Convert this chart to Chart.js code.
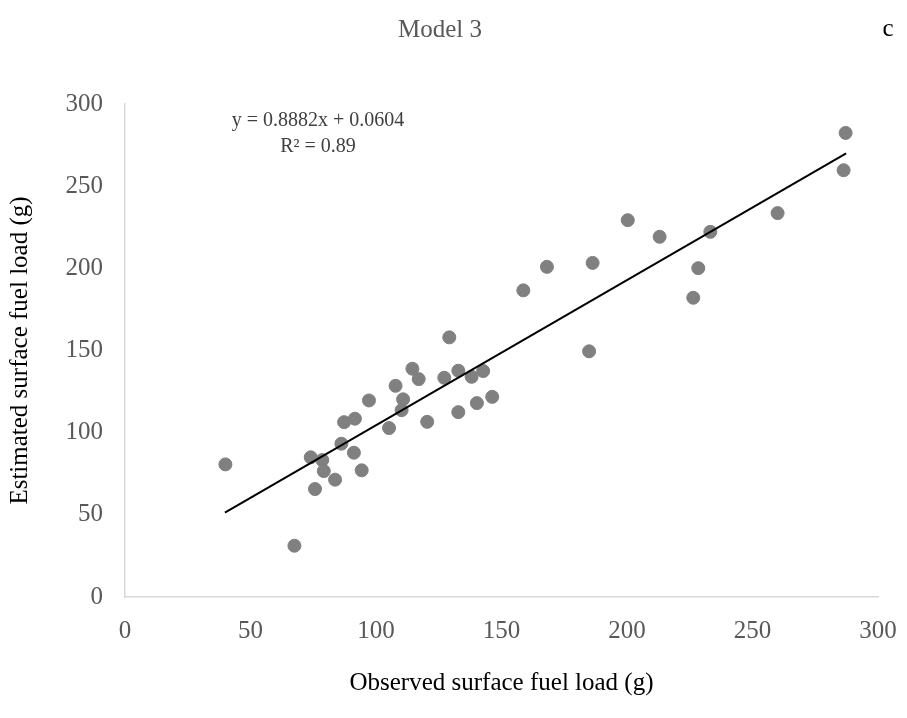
<!DOCTYPE html>
<html>
<head>
<meta charset="utf-8">
<script src="https://cdn.jsdelivr.net/npm/chart.js@4"></script>
<style>
  html, body { margin: 0; padding: 0; background: #fff; }
  #wrap { width: 907px; height: 718px; }
</style>
</head>
<body>
<div id="wrap"><canvas id="chart" width="907" height="718"></canvas></div>
<script>
// valeurs (g)
const observed = [40, 67.5, 74, 75.7, 78.6, 79.2, 83.7, 86.2, 87.3, 91.2, 91.6, 94.3, 97.2, 105.2,
  107.8, 110.2, 110.8, 114.5, 117, 120.4, 127.2, 129.2, 132.8, 132.8, 138.1, 140.2, 142.7, 146.3,
  158.7, 168.1, 186.3, 184.9, 200.3, 213, 233.2, 228.4, 226.4, 260, 286.3, 287.1];
const estimated = [80.7, 31.2, 85, 65.7, 83.3, 76.6, 71.4, 93.3, 106.4, 87.8, 108.5, 77.1, 119.6, 102.8,
  128.5, 113.7, 120.3, 138.9, 132.6, 106.6, 133.4, 158, 137.7, 112.5, 134, 118, 137.5, 121.8,
  186.6, 200.9, 203.3, 149.5, 229.3, 219.2, 222.2, 200.1, 182.1, 233.6, 259.7, 282.4];
// extrémités de la droite de tendance
const trendX = [39.8, 287.3];
const trendY = [51.3, 269.9];
const equationLines = ['y = 0.8882x + 0.0604', 'R² = 0.89'];
const xTicks = [0, 50, 100, 150, 200, 250, 300];
const yTicks = [0, 50, 100, 150, 200, 250, 300];

const serif = "'Liberation Serif', 'Times New Roman', serif";

// textes hors du graphique : titre, lettre du panneau, équation
const extraText = {
  id: 'extraText',
  afterDraw(chart) {
    const ctx = chart.ctx;
    ctx.save();
    ctx.textAlign = 'center';
    ctx.textBaseline = 'middle';
    ctx.font = '25px ' + serif;
    ctx.fillStyle = '#595959';
    ctx.fillText('Model 3', 440, 30);
    ctx.fillStyle = '#000';
    ctx.fillText('c', 888, 29);
    ctx.font = '20px ' + serif;
    ctx.fillStyle = '#404040';
    ctx.fillText(equationLines[0], 318, 121);
    ctx.fillText(equationLines[1], 318, 147);
    ctx.restore();
  }
};

new Chart(document.getElementById('chart'), {
  type: 'scatter',
  data: {
    datasets: [
      {
        label: 'Estimated',
        data: observed.map((x, i) => ({ x: x, y: estimated[i] })),
        backgroundColor: '#808080',
        borderColor: '#808080',
        pointRadius: 6.5,
        pointHoverRadius: 6.5,
        order: 2
      },
      {
        label: 'Trend',
        type: 'line',
        data: trendX.map((x, i) => ({ x: x, y: trendY[i] })),
        borderColor: '#000',
        borderWidth: 2,
        pointRadius: 0,
        fill: false,
        order: 1
      }
    ]
  },
  options: {
    responsive: false,
    animation: false,
    layout: { padding: { top: 104, right: 29, bottom: 0, left: 0 } },
    plugins: {
      legend: { display: false },
      tooltip: { enabled: false }
    },
    scales: {
      x: {
        type: 'linear',
        min: 0,
        max: 300,
        afterBuildTicks: (s) => { s.ticks = xTicks.map(v => ({ value: v })); },
        afterFit: (s) => { s.height = 121; s.paddingLeft = 0; s.paddingRight = 0; },
        grid: { display: false, drawTicks: false },
        border: { display: true, color: '#d9d9d9', width: 1.5 },
        ticks: { color: '#595959', font: { family: serif, size: 25 }, padding: 19 },
        title: {
          display: true,
          text: 'Observed surface fuel load (g)',
          color: '#000',
          font: { family: serif, size: 25 },
          padding: { top: 0, bottom: 20 }
        }
      },
      y: {
        type: 'linear',
        min: 0,
        max: 300,
        afterBuildTicks: (s) => { s.ticks = yTicks.map(v => ({ value: v })); },
        afterFit: (s) => { s.width = 125; s.paddingTop = 0; s.paddingBottom = 0; },
        grid: { display: false, drawTicks: false },
        border: { display: true, color: '#d9d9d9', width: 1.5 },
        ticks: { color: '#595959', font: { family: serif, size: 25 }, padding: 22 },
        title: {
          display: true,
          text: 'Estimated surface fuel load (g)',
          color: '#000',
          font: { family: serif, size: 25 },
          padding: { top: 5, bottom: 0 }
        }
      }
    }
  },
  plugins: [extraText]
});
</script>
</body>
</html>
